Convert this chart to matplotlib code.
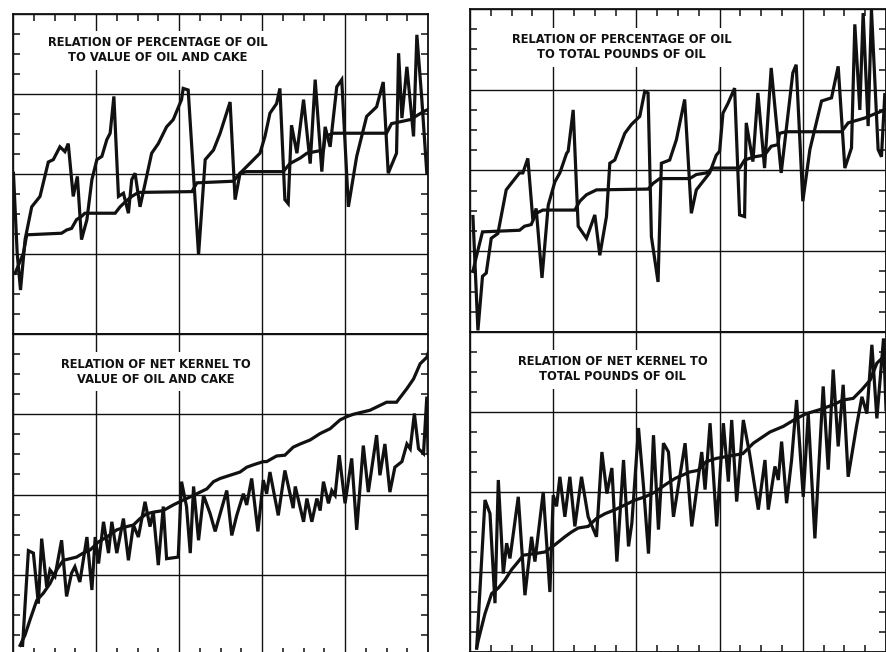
import matplotlib.pyplot as plt
from matplotlib.ticker import MultipleLocator

# values; x = percent of plot width, y = grid units (10 per row)

# top left: percentage of oil vs value of oil and cake
tl_step_x = [0.5, 2.5, 3.3, 11.7, 12.9, 14.1, 15.3, 16.5, 17.3, 24.6, 25.8, 27.0, 28.6, 30.2,
             43.1, 44.3, 53.1, 54.7, 56.3, 65.1, 66.7, 69.2, 70.8, 74.8, 75.2, 77.2, 90.0,
             91.2, 95.7, 98.9, 99.7]
tl_step_y = [7.6, 10.1, 12.4, 12.6, 13.0, 13.2, 14.3, 14.7, 15.1, 15.1, 15.9, 16.5, 17.2, 17.7,
             17.8, 18.9, 19.1, 20.1, 20.3, 20.3, 21.3, 22.0, 22.6, 23.0, 24.7, 25.1, 25.1,
             26.3, 26.8, 27.8, 28.0]
tl_saw_x = [0.1, 1.0, 1.8, 2.9, 4.5, 6.5, 8.5, 9.7, 11.3, 12.5, 13.3, 14.5, 15.5, 16.5, 17.8,
            19.0, 20.2, 21.4, 22.6, 23.4, 24.3, 25.4, 26.6, 27.8, 28.6, 29.4, 30.6, 33.4, 35.0,
            37.0, 38.6, 40.6, 41.0, 42.2, 44.7, 46.3, 48.3, 49.9, 52.3, 53.5, 54.7, 59.5, 60.7,
            61.9, 63.5, 64.3, 65.5, 66.3, 67.1, 68.4, 70.0, 71.6, 72.8, 74.4, 75.2, 76.4, 78.0,
            79.2, 80.8, 82.8, 85.2, 87.6, 89.2, 90.4, 92.4, 92.9, 93.7, 94.9, 96.5, 97.3, 98.5,
            99.7]
tl_saw_y = [20.1, 10.1, 5.5, 11.8, 15.9, 17.2, 21.5, 21.8, 23.4, 22.8, 23.8, 17.2, 19.7, 11.8,
            14.3, 19.3, 21.8, 22.2, 24.3, 25.1, 29.7, 17.2, 17.6, 15.1, 19.3, 20.1, 15.9, 22.6,
            23.8, 25.9, 26.8, 29.3, 30.7, 30.5, 9.9, 21.8, 23.0, 25.1, 29.0, 16.8, 20.1, 22.6,
            24.7, 27.6, 28.8, 30.7, 16.8, 16.3, 26.1, 22.6, 29.3, 21.3, 31.8, 20.3, 25.9, 23.4,
            30.9, 31.8, 15.9, 22.2, 27.2, 28.4, 31.5, 20.1, 22.6, 35.1, 27.0, 33.4, 24.7, 37.4,
            29.3, 20.1]

# top right: percentage of oil vs total pounds of oil
tr_step_x = [0.7, 1.5, 3.0, 11.9, 13.1, 14.7, 15.9, 17.5, 25.2, 26.4, 28.0, 30.4, 42.8, 44.0,
             45.6, 52.8, 54.4, 56.8, 58.4, 64.8, 66.0, 68.4, 70.8, 72.4, 74.0, 74.4, 76.0, 89.3,
             90.9, 94.9, 97.7, 99.7]
tr_step_y = [7.5, 9.3, 12.4, 12.6, 13.1, 13.3, 14.7, 15.1, 15.1, 16.2, 17.0, 17.6, 17.7, 18.4,
             19.0, 19.0, 19.5, 19.7, 20.3, 20.3, 21.3, 21.7, 21.9, 23.0, 23.2, 24.6, 24.8, 24.8,
             25.9, 26.5, 27.1, 27.5]
tr_saw_x = [0.7, 1.9, 3.0, 3.9, 5.1, 6.7, 8.7, 9.9, 11.9, 12.7, 13.9, 15.1, 15.9, 17.3, 18.8,
            20.4, 21.6, 23.2, 23.6, 24.8, 26.0, 28.0, 30.0, 31.2, 32.8, 33.6, 34.8, 37.2, 38.8,
            40.8, 42.0, 42.8, 43.6, 45.2, 46.0, 48.0, 49.6, 51.6, 53.2, 54.4, 57.6, 59.2, 60.0,
            60.8, 62.0, 63.6, 64.8, 66.0, 66.4, 68.0, 69.2, 70.8, 72.4, 74.8, 77.6, 78.4, 80.0,
            81.7, 84.5, 86.9, 88.5, 90.1, 91.7, 92.5, 93.7, 94.5, 95.7, 96.5, 98.1, 98.9, 99.7]
tr_saw_y = [14.3, 0.2, 6.9, 7.3, 11.6, 12.2, 17.6, 18.4, 19.7, 19.7, 21.5, 13.9, 15.3, 6.7, 15.7,
            18.6, 19.7, 22.1, 22.4, 27.5, 13.1, 11.6, 14.5, 9.5, 14.3, 20.9, 21.3, 24.6, 25.7,
            26.7, 29.8, 29.6, 11.8, 6.2, 20.9, 21.3, 23.8, 28.8, 14.7, 17.6, 19.7, 21.9, 22.4,
            27.1, 28.3, 30.2, 14.5, 14.3, 25.9, 21.1, 29.6, 20.3, 32.7, 19.7, 32.1, 33.1, 16.2,
            22.6, 28.6, 29.0, 32.9, 20.3, 22.8, 38.1, 27.5, 39.5, 25.5, 39.9, 22.6, 21.7, 29.4]

# bottom left: net kernel vs value of oil and cake
bl_step_x = [1.7, 2.9, 4.1, 5.7, 7.3, 8.9, 10.5, 12.1, 15.3, 16.9, 18.6, 20.6, 22.6, 25.0, 27.4,
             29.0, 30.6, 32.2, 33.8, 36.2, 38.6, 41.0, 43.5, 45.1, 46.7, 48.3, 49.9, 52.3, 54.7,
             56.3, 57.9, 60.3, 61.1, 63.5, 65.5, 67.5, 69.2, 71.6, 74.0, 76.4, 78.8, 80.4, 82.0,
             84.4, 86.0, 88.4, 90.0, 92.4, 94.9, 96.5, 98.1, 99.7, 100.0]
bl_step_y = [1.2, 2.5, 4.4, 6.8, 7.7, 8.9, 10.6, 11.8, 12.2, 12.7, 13.1, 14.1, 14.7, 15.6, 16.0,
             16.2, 17.0, 17.6, 17.8, 18.0, 18.7, 19.3, 19.9, 20.3, 20.7, 21.6, 22.0, 22.4, 22.8,
             23.4, 23.7, 24.1, 24.1, 24.8, 24.9, 25.9, 26.3, 26.8, 27.6, 28.2, 29.3, 29.7, 30.0,
             30.3, 30.5, 31.1, 31.5, 31.5, 33.2, 34.4, 36.3, 37.1, 37.6]
bl_saw_x = [2.3, 3.7, 4.9, 6.1, 6.9, 8.1, 8.9, 10.1, 11.7, 12.9, 14.1, 14.9, 16.1, 17.8, 19.0,
            19.8, 20.6, 21.8, 23.0, 23.8, 25.0, 26.6, 27.8, 29.0, 30.2, 31.8, 33.0, 33.8, 35.0,
            36.2, 37.0, 39.8, 40.6, 41.8, 42.7, 43.5, 44.7, 45.9, 47.5, 48.7, 49.9, 51.5, 52.7,
            53.9, 55.5, 56.3, 57.5, 59.0, 60.3, 61.1, 61.9, 63.9, 65.5, 67.5, 68.0, 70.0, 70.8,
            72.0, 73.2, 74.0, 74.8, 76.0, 76.8, 77.6, 78.6, 80.0, 81.6, 82.8, 84.4, 85.6, 87.6,
            88.4, 89.6, 90.8, 92.0, 93.7, 94.9, 95.7, 96.7, 97.7, 98.9, 99.7, 100.0]
bl_saw_y = [1.2, 13.0, 12.7, 6.4, 14.5, 8.5, 10.6, 9.8, 14.3, 7.3, 10.2, 11.0, 9.1, 14.7, 8.1,
            14.7, 11.4, 16.6, 12.7, 16.6, 12.7, 17.0, 11.8, 16.2, 14.7, 19.1, 16.0, 17.8, 11.2,
            18.5, 12.0, 12.2, 21.6, 18.5, 12.7, 21.0, 14.3, 19.9, 17.6, 15.4, 17.6, 20.5, 14.9,
            17.4, 20.1, 18.7, 22.0, 15.4, 21.8, 20.1, 22.8, 17.4, 23.0, 18.3, 21.0, 16.6, 19.5,
            16.6, 19.5, 18.0, 21.6, 18.9, 20.5, 19.9, 24.9, 18.9, 24.5, 15.6, 26.1, 20.3, 27.4,
            22.4, 26.3, 20.3, 23.4, 24.1, 26.3, 25.7, 30.1, 25.7, 25.1, 32.2, 25.1]

# bottom right: net kernel vs total pounds of oil
br_step_x = [1.6, 2.0, 3.6, 5.2, 6.8, 8.4, 10.0, 11.6, 12.8, 15.6, 18.0, 20.4, 22.8, 24.4, 26.0,
             28.4, 30.4, 32.5, 34.9, 37.3, 39.7, 42.1, 44.5, 46.9, 49.3, 52.8, 54.8, 56.8, 59.2,
             65.6, 68.1, 72.1, 75.3, 78.5, 80.9, 84.1, 87.3, 89.7, 92.1, 94.2, 96.2, 97.8, 99.4,
             100.0]
br_step_y = [0.5, 1.5, 4.8, 7.3, 8.0, 9.0, 10.3, 11.3, 12.1, 12.3, 12.5, 13.4, 14.4, 15.0, 15.5,
             15.7, 16.7, 17.3, 17.8, 18.4, 19.0, 19.4, 20.0, 20.9, 21.7, 22.5, 22.7, 23.8, 24.2,
             24.8, 26.1, 27.5, 28.2, 29.2, 29.8, 30.3, 30.9, 31.5, 31.7, 32.8, 34.0, 36.1, 36.9,
             37.3]
br_saw_x = [1.6, 3.6, 4.8, 6.0, 6.8, 8.0, 8.8, 9.6, 11.6, 13.2, 14.8, 15.6, 17.6, 19.2, 20.0,
            20.8, 21.6, 22.8, 24.0, 25.2, 26.8, 28.4, 30.4, 31.7, 32.9, 34.1, 35.3, 36.9, 38.1,
            38.9, 40.5, 41.7, 42.9, 44.1, 45.3, 46.5, 47.7, 48.9, 51.7, 53.3, 55.7, 56.5, 57.7,
            59.3, 60.9, 62.1, 62.9, 64.1, 65.7, 67.2, 69.3, 70.9, 71.7, 73.3, 74.1, 74.9, 76.1,
            77.3, 78.5, 80.1, 81.3, 82.9, 84.9, 86.1, 87.3, 88.5, 89.7, 90.9, 92.9, 94.2, 95.4,
            96.6, 97.8, 99.4, 100.0]
br_saw_y = [0.5, 19.0, 17.3, 6.1, 21.5, 9.8, 13.6, 11.7, 19.4, 7.1, 14.4, 11.3, 20.0, 7.5, 19.6,
            18.2, 21.9, 16.9, 21.9, 15.7, 21.9, 16.9, 14.4, 25.0, 19.8, 23.0, 11.3, 24.0, 13.2,
            16.1, 28.0, 20.7, 12.3, 27.1, 15.3, 26.1, 25.0, 16.9, 26.1, 15.7, 25.0, 20.3, 28.6,
            15.7, 28.6, 21.3, 29.0, 18.8, 29.0, 24.8, 17.8, 24.0, 17.8, 23.2, 21.5, 26.3, 18.6,
            24.0, 31.5, 19.4, 29.8, 14.2, 33.2, 22.8, 35.3, 25.7, 33.4, 21.9, 28.2, 31.9, 29.8,
            38.4, 29.2, 39.2, 30.3]

titles = {
    'tl': 'RELATION OF PERCENTAGE OF OIL\nTO VALUE OF OIL AND CAKE',
    'tr': 'RELATION OF PERCENTAGE OF OIL\nTO TOTAL POUNDS OF OIL',
    'bl': 'RELATION OF NET KERNEL TO\nVALUE OF OIL AND CAKE',
    'br': 'RELATION OF NET KERNEL TO\nTOTAL POUNDS OF OIL',
}

ink = '#111111'

fig = plt.figure(figsize=(8.87, 6.52), dpi=100)

# [left, bottom, width, height] in figure fraction
boxes = {
    'tl': [0.0147, 0.4877, 0.4679, 0.4908],
    'bl': [0.0147, -0.0046, 0.4679, 0.4923],
    'tr': [0.5299, 0.4908, 0.4690, 0.4954],
    'br': [0.5299, 0.0000, 0.4690, 0.4908],
}
title_pos = {'tl': (0.348, 0.887), 'tr': (0.364, 0.882), 'bl': (0.345, 0.882), 'br': (0.343, 0.884)}

series = {
    'tl': (tl_step_x, tl_step_y, tl_saw_x, tl_saw_y),
    'tr': (tr_step_x, tr_step_y, tr_saw_x, tr_saw_y),
    'bl': (bl_step_x, bl_step_y, bl_saw_x, bl_saw_y),
    'br': (br_step_x, br_step_y, br_saw_x, br_saw_y),
}

for key in ['tl', 'tr', 'bl', 'br']:
    ax = fig.add_axes(boxes[key])
    sx, sy, wx, wy = series[key]
    ax.plot(sx, sy, color=ink, lw=2.3, zorder=3, solid_joinstyle='miter')
    ax.plot(wx, wy, color=ink, lw=2.3, zorder=3, solid_joinstyle='miter')
    ax.set_xlim(0, 100)
    ax.set_ylim(0, 40)
    ax.xaxis.set_major_locator(MultipleLocator(20))
    ax.yaxis.set_major_locator(MultipleLocator(10))
    ax.xaxis.set_minor_locator(MultipleLocator(5))
    ax.yaxis.set_minor_locator(MultipleLocator(2.5))
    ax.grid(True, which='major', color=ink, lw=1.0, zorder=1)
    top = key[0] == 't'
    ax.tick_params(which='both', direction='in', color=ink, labelleft=False, labelbottom=False,
                   left=True, right=True, top=top, bottom=not top)
    ax.tick_params(which='minor', length=5, width=1.1)
    ax.tick_params(which='major', length=0)
    for s in ax.spines.values():
        s.set_color(ink)
        s.set_linewidth(1.3)
    tx, ty = title_pos[key]
    ax.text(tx, ty, titles[key], transform=ax.transAxes, ha='center', va='center',
            fontsize=8.3, fontweight='bold', family='DejaVu Sans', color=ink,
            linespacing=1.2, zorder=4,
            bbox=dict(facecolor='white', edgecolor='none', pad=4))

fig.savefig('out.png', dpi=100)
